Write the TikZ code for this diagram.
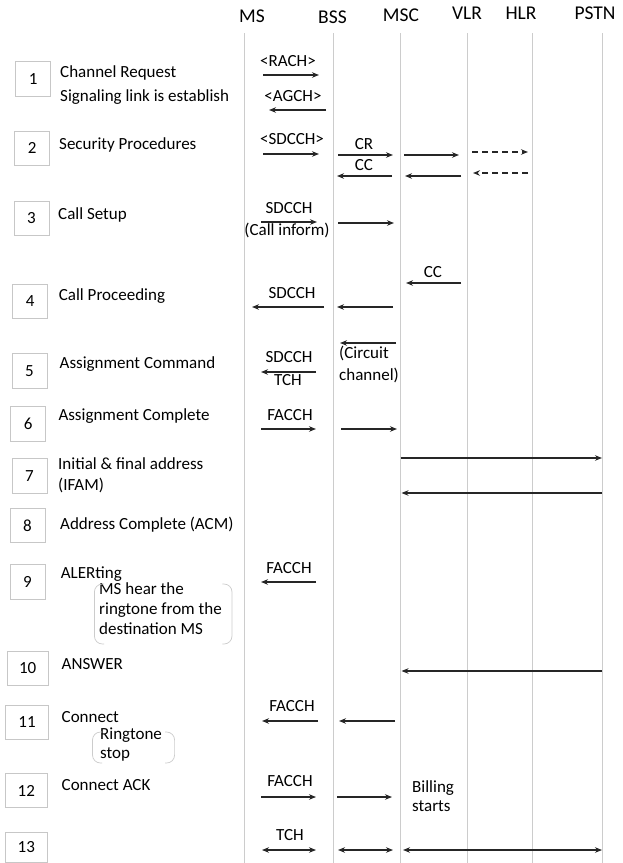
\documentclass[tikz,border=0pt]{standalone}
\usepackage{fontspec}
\setmainfont{Carlito}
\usetikzlibrary{arrows.meta}
\newcommand\myarr[5]{%
  \coordinate (#1s) at (#2,#4);
  \coordinate (#1e) at (#3,#4);
  \draw[#5] (#1s) -- (#1e);}
\newcommand\mylife[2]{%
  \coordinate (#1top) at (#2,33);
  \coordinate (#1bot) at (#2,863);
  \draw[life] (#1top) -- (#1bot);}
\begin{document}
\begin{tikzpicture}[x=1pt,y=-1pt,
  life/.style={draw=black!20, line width=0.8pt},
  numbox/.style={draw=black!22, line width=0.8pt, inner sep=0pt, minimum height=34.5pt,
    font=\fontsize{17}{20}\selectfont},
  txt/.style={font=\fontsize{17}{20}\selectfont, inner sep=0pt, text height=0.72em, text depth=0.2em},
  lefttxt/.style={txt, anchor=west},
  hdr/.style={font=\fontsize{19.5}{23}\selectfont, inner sep=0pt, text height=0.72em, text depth=0.2em},
  msg/.style={draw=black!85, line width=1.3pt, -{Stealth[length=7pt,width=5.5pt]}},
  dmsg/.style={msg, dash pattern=on 6pt off 4pt},
  bmsg/.style={draw=black!85, line width=1.3pt, {Stealth[length=7pt,width=5.5pt]}-{Stealth[length=7pt,width=5.5pt]}},
  note/.style={draw=black!20, line width=0.7pt, rounded corners=8pt}
]
\useasboundingbox (0,0) rectangle (622,863);
\fill[white] (0,0) rectangle (622,863);

% lifelines
\mylife{ms}{244}
\mylife{bss}{333}
\mylife{msc}{400.7}
\mylife{vlr}{467}
\mylife{hlr}{532}
\mylife{pstn}{602}

% headers
\node[hdr] (hms) at (252,20) {MS};
\node[hdr] (hbss) at (332.5,20.5) {BSS};
\node[hdr] (hmsc) at (401,18.5) {MSC};
\node[hdr] (hvlr) at (467,17) {VLR};
\node[hdr] (hhlr) at (521,16.5) {HLR};
\node[hdr] (hpstn) at (595,16.5) {PSTN};

% number boxes
\node[numbox, minimum width=35pt] (b1) at (33.2,78.9) {1};
\node[numbox, minimum width=35pt] (b2) at (32.3,148.3) {2};
\node[numbox, minimum width=35pt] (b3) at (31.5,218.3) {3};
\node[numbox, minimum width=35pt] (b4) at (30.3,301.5) {4};
\node[numbox, minimum width=35pt] (b5) at (29.5,371) {5};
\node[numbox, minimum width=35pt] (b6) at (28.2,424) {6};
\node[numbox, minimum width=35pt] (b7) at (29.5,476) {7};
\node[numbox, minimum width=35pt] (b8) at (27.5,525.5) {8};
\node[numbox, minimum width=35pt] (b9) at (27.5,582) {9};
\node[numbox, minimum width=41pt] (b10) at (27.7,668.5) {10};
\node[numbox, minimum width=43pt] (b11) at (27,722.5) {11};
\node[numbox, minimum width=42.6pt] (b12) at (26.3,790.5) {12};
\node[numbox, minimum width=42.6pt, minimum height=30pt] (b13) at (26.3,847) {13};

% step texts
\node[lefttxt] (t1a) at (60,75) {Channel Request};
\node[lefttxt] (t1b) at (60,99) {Signaling link is establish};
\node[lefttxt] (t2) at (59,147) {Security Procedures};
\node[lefttxt] (t3) at (58,217) {Call Setup};
\node[lefttxt] (t4) at (58.7,298) {Call Proceeding};
\node[lefttxt] (t5) at (59.5,366) {Assignment Command};
\node[lefttxt] (t6) at (58.3,418) {Assignment Complete};
\node[lefttxt] (t7a) at (58,467) {Initial \& final address};
\node[lefttxt] (t7b) at (58,488) {(IFAM)};
\node[lefttxt] (t8) at (60,527) {Address Complete (ACM)};
\node[lefttxt] (t9) at (60.7,576) {ALERting};
\node[lefttxt] (t9a) at (99,592) {MS hear the};
\node[lefttxt] (t9b) at (99,612) {ringtone from the};
\node[lefttxt] (t9c) at (99,632) {destination MS};
\node[lefttxt] (t10) at (61.5,667) {ANSWER};
\node[lefttxt] (t11) at (61.5,720) {Connect};
\node[lefttxt] (t11a) at (100,737) {Ringtone};
\node[lefttxt] (t11b) at (100,756) {stop};
\node[lefttxt] (t12) at (61.5,788) {Connect ACK};

% double-bracket notes
\draw[note] (104,584) -- (94.4,584) -- (94.4,644) -- (104,644);
\draw[note] (222.4,584) -- (232,584) -- (232,644) -- (222.4,644);
\draw[note] (102,732) -- (92.5,732) -- (92.5,763) -- (102,763);
\draw[note] (165,732) -- (174.6,732) -- (174.6,763) -- (165,763);

% message labels
\node[txt] (lrach) at (288,64) {<RACH>};
\node[txt] (lagch) at (293,99) {<AGCH>};
\node[txt] (lsd2) at (292,142) {<SDCCH>};
\node[txt] (lcr) at (364,147) {CR};
\node[txt] (lcc2) at (364,168) {CC};
\node[txt] (lsd3) at (289,211) {SDCCH};
\node[txt] (lci) at (287,233) {(Call inform)};
\node[txt] (lcc4) at (433,275) {CC};
\node[txt] (lsd4) at (292,296) {SDCCH};
\node[lefttxt] (lcirc) at (339,356) {(Circuit};
\node[lefttxt] (lchan) at (339,378) {channel)};
\node[txt] (lsd5) at (289,360) {SDCCH};
\node[txt] (ltch5) at (288,383) {TCH};
\node[txt] (lfa6) at (290,418) {FACCH};
\node[txt] (lfa9) at (289,571) {FACCH};
\node[txt] (lfa11) at (292,709) {FACCH};
\node[txt] (lfa12) at (290,784) {FACCH};
\node[lefttxt] (lbill) at (412,790) {Billing};
\node[lefttxt] (lstart) at (412,809) {starts};
\node[txt] (ltch13) at (290,838) {TCH};

% messages
\myarr{a1}{263}{319}{75}{msg}
\myarr{a2}{326}{269}{110}{msg}
\myarr{a3}{263}{319}{154}{msg}
\myarr{a4}{338}{393}{155}{msg}
\myarr{a5}{404}{459}{155}{msg}
\myarr{a6}{472}{528}{152}{dmsg}
\myarr{a7}{392}{337}{176}{msg}
\myarr{a8}{461}{405}{176}{msg}
\myarr{a9}{528}{473}{173}{dmsg}
\myarr{a10}{261}{317}{222}{msg}
\myarr{a11}{338}{394}{223}{msg}
\myarr{a12}{461}{406}{283}{msg}
\myarr{a13}{324}{252}{307}{msg}
\myarr{a14}{393}{337}{307}{msg}
\myarr{a15}{396}{340}{343}{msg}
\myarr{a16}{316}{261}{372}{msg}
\myarr{a17}{261}{316}{429}{msg}
\myarr{a18}{341}{397}{429}{msg}
\myarr{a19}{400.7}{602}{458}{msg}
\myarr{a20}{602}{401.5}{493}{msg}
\myarr{a21}{316}{261}{582}{msg}
\myarr{a22}{602}{401.5}{671}{msg}
\myarr{a23}{318}{262}{721}{msg}
\myarr{a24}{395}{339}{721}{msg}
\myarr{a25}{261}{316}{797}{msg}
\myarr{a26}{337}{392}{797}{msg}
\myarr{a27}{262}{316}{850}{bmsg}
\myarr{a28}{338}{393}{850}{bmsg}
\myarr{a29}{403}{602}{850}{bmsg}
\end{tikzpicture}
\end{document}
